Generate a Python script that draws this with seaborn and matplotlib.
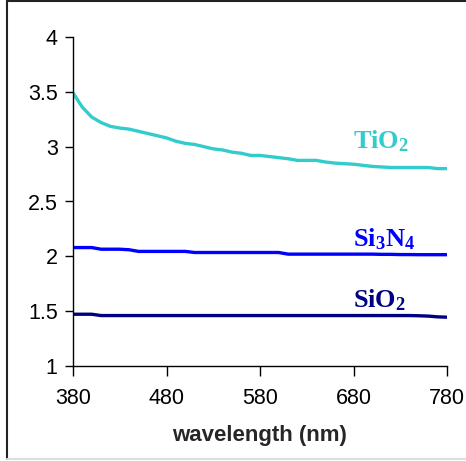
import matplotlib
matplotlib.use("Agg")
import matplotlib.pyplot as plt
import seaborn as sns
import pandas as pd
from matplotlib.lines import Line2D

wavelength = [380, 390, 400, 410, 420, 430, 440, 450, 460, 470, 480, 490, 500,
              510, 520, 530, 540, 550, 560, 570, 580, 590, 600, 610, 620, 630,
              640, 650, 660, 670, 680, 690, 700, 710, 720, 730, 740, 750, 760,
              770, 780]

tio2 = [3.49, 3.36, 3.27, 3.22, 3.185, 3.17, 3.16, 3.14, 3.12, 3.10, 3.08, 3.05,
        3.03, 3.02, 3.00, 2.98, 2.97, 2.95, 2.94, 2.92, 2.92, 2.91, 2.90, 2.89,
        2.875, 2.875, 2.875, 2.86, 2.85, 2.845, 2.84, 2.83, 2.82, 2.815, 2.81,
        2.81, 2.81, 2.81, 2.81, 2.80, 2.80]

si3n4 = [2.08, 2.08, 2.08, 2.065, 2.065, 2.065, 2.06, 2.045, 2.045, 2.045,
         2.045, 2.045, 2.045, 2.035, 2.035, 2.035, 2.035, 2.035, 2.035, 2.035,
         2.035, 2.035, 2.035, 2.02, 2.02, 2.02, 2.02, 2.02, 2.02, 2.02, 2.02,
         2.02, 2.02, 2.018, 2.018, 2.016, 2.016, 2.015, 2.015, 2.015, 2.015]

sio2 = [1.472, 1.472, 1.472, 1.46, 1.46, 1.46, 1.46, 1.46, 1.46, 1.46, 1.46,
        1.46, 1.46, 1.46, 1.46, 1.46, 1.46, 1.46, 1.46, 1.46, 1.46, 1.46, 1.46,
        1.46, 1.46, 1.46, 1.46, 1.46, 1.46, 1.46, 1.46, 1.46, 1.46, 1.46, 1.46,
        1.46, 1.46, 1.458, 1.455, 1.448, 1.445]

materials = ["TiO2", "Si3N4", "SiO2"]
labels = ["TiO$_\\mathbf{2}$", "Si$_\\mathbf{3}$N$_\\mathbf{4}$", "SiO$_\\mathbf{2}$"]
colors = ["#33CCCC", "#0000FF", "#000080"]
x_ticks = [380, 480, 580, 680, 780]
y_ticks = [1, 1.5, 2, 2.5, 3, 3.5, 4]
y_tick_labels = ["1", "1.5", "2", "2.5", "3", "3.5", "4"]

df = pd.concat([
    pd.DataFrame({"wavelength": wavelength, "n": vals, "material": m})
    for m, vals in zip(materials, [tio2, si3n4, sio2])
])

sns.set_style("ticks")
plt.rcParams["font.family"] = ["Liberation Sans", "DejaVu Sans"]
plt.rcParams["mathtext.fontset"] = "custom"
plt.rcParams["mathtext.bf"] = "Liberation Serif:bold"
plt.rcParams["mathtext.rm"] = "Liberation Serif:bold"
plt.rcParams["mathtext.it"] = "Liberation Serif:bold"

fig = plt.figure(figsize=(4.66, 4.61), dpi=100)
ax = fig.add_axes([73 / 466, 1 - 366 / 461, (447 - 73) / 466, (366 - 37) / 461])

sns.lineplot(data=df, x="wavelength", y="n", hue="material",
             palette=dict(zip(materials, colors)), linewidth=2.4,
             legend=False, ax=ax)

ax.set_xlim(380, 780)
ax.set_ylim(1, 4)
ax.set_xticks(x_ticks)
ax.set_xticklabels([str(t) for t in x_ticks])
ax.set_yticks(y_ticks)
ax.set_yticklabels(y_tick_labels)
ax.tick_params(axis="both", labelsize=15.5, colors="black", width=1)
ax.tick_params(axis="x", length=7, pad=9)
ax.tick_params(axis="y", length=6, pad=5)
ax.set_xlabel("wavelength (nm)", fontsize=16, fontweight="bold", labelpad=11)
ax.set_ylabel("")
for side in ["top", "right"]:
    ax.spines[side].set_visible(False)
for side in ["left", "bottom"]:
    ax.spines[side].set_linewidth(1)
    ax.spines[side].set_color("black")

label_pos = [(679, 2.984), (679, 2.088), (679, 1.53)]
for lab, (xx, yy), c in zip(labels, label_pos, colors):
    ax.text(xx, yy, lab, color=c, fontsize=19, fontweight="bold",
            family="Liberation Serif", ha="left", va="baseline")

# chart-area border
fig.add_artist(Line2D([6.5 / 466, 6.5 / 466], [1 - 1.5 / 461, 1 - 459 / 461],
                      transform=fig.transFigure, color="#222222", lw=1.5))
fig.add_artist(Line2D([6.5 / 466, 1], [1 - 1.5 / 461, 1 - 1.5 / 461],
                      transform=fig.transFigure, color="#222222", lw=1.5))
fig.add_artist(Line2D([6.5 / 466, 1], [1 - 459 / 461, 1 - 459 / 461],
                      transform=fig.transFigure, color="#dddddd", lw=1.5))

fig.savefig("out.png", dpi=100)
